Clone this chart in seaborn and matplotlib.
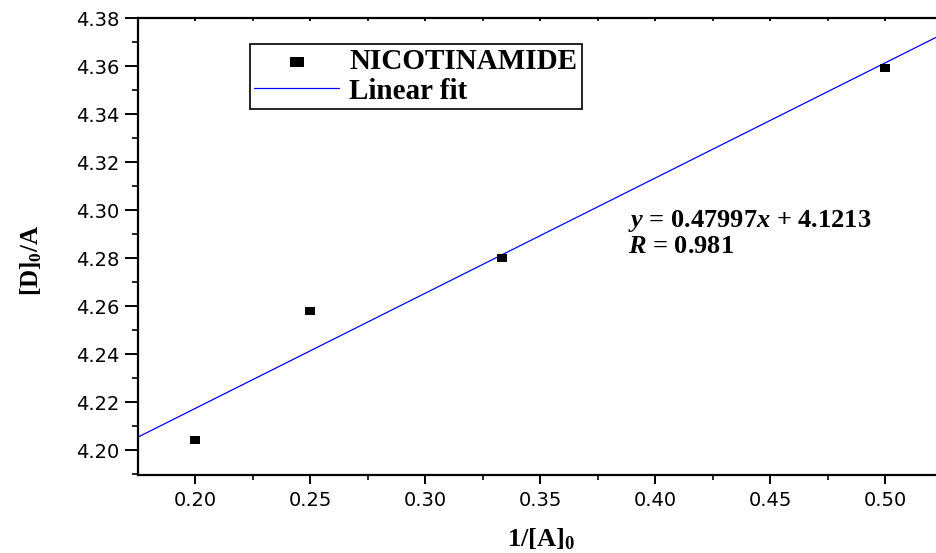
import matplotlib
matplotlib.use("Agg")
import matplotlib.pyplot as plt
import seaborn as sns
import numpy as np
import pandas as pd
from matplotlib.ticker import MultipleLocator, FormatStrFormatter

# data
x_vals = [0.2, 0.25, 0.3333, 0.5]
y_vals = [4.204, 4.258, 4.280, 4.359]
slope = 0.47997
intercept = 4.1213
series_name = "NICOTINAMIDE"
fit_name = "Linear fit"
eq_text = r'$y$ = 0.47997$x$ + 4.1213'
r_text = r'$R$ = 0.981'

sns.set_theme(style="ticks")
plt.rcParams['font.family'] = ['DejaVu Sans']
plt.rcParams['text.color'] = 'black'
plt.rcParams['axes.labelcolor'] = 'black'
plt.rcParams['xtick.color'] = 'black'
plt.rcParams['ytick.color'] = 'black'
plt.rcParams['xtick.labelcolor'] = 'black'
plt.rcParams['ytick.labelcolor'] = 'black'
plt.rcParams['mathtext.fontset'] = 'custom'
plt.rcParams['mathtext.rm'] = 'Liberation Serif:bold'
plt.rcParams['mathtext.bf'] = 'Liberation Serif:bold'
plt.rcParams['mathtext.it'] = 'Liberation Serif:italic:bold'

df = pd.DataFrame({"x": x_vals, "y": y_vals})

W, H = 936, 553
fig = plt.figure(figsize=(W / 100, H / 100), dpi=100)
ax_left, ax_right, ax_top, ax_bottom = 138, 936, 18, 475
ax = fig.add_axes([ax_left / W, 1 - ax_bottom / H, (ax_right - ax_left) / W,
                   (ax_bottom - ax_top) / H])

xmin, xmax = 0.1752, 0.1752 + (ax_right - ax_left) / 2300
ax.set_xlim(xmin, xmax)
ax.set_ylim(4.1896, 4.38)

xl = np.array([xmin, xmax])
line_df = pd.DataFrame({"x": xl, "y": slope * xl + intercept})

rect = [(-1.45, -1), (1.45, -1), (1.45, 1), (-1.45, 1), (-1.45, -1)]
sns.scatterplot(data=df, x="x", y="y", ax=ax, marker=rect, s=60, color="black",
                edgecolor="black", linewidth=0, label=series_name, zorder=3)
sns.lineplot(data=line_df, x="x", y="y", ax=ax, color="#0000ff", linewidth=0.9,
             label=fit_name, zorder=2)

ax.xaxis.set_major_locator(MultipleLocator(0.05))
ax.xaxis.set_minor_locator(MultipleLocator(0.025))
ax.yaxis.set_major_locator(MultipleLocator(0.02))
ax.yaxis.set_minor_locator(MultipleLocator(0.01))
ax.xaxis.set_major_formatter(FormatStrFormatter('%.2f'))
ax.yaxis.set_major_formatter(FormatStrFormatter('%.2f'))

for s in ['left', 'bottom', 'top']:
    ax.spines[s].set_linewidth(1.6)
    ax.spines[s].set_color('black')
ax.spines['right'].set_visible(False)

ax.tick_params(axis='both', which='both', colors='black', labelcolor='black', labelsize=14)
ax.tick_params(axis='y', which='major', direction='out', length=9.5, width=1.4, pad=4)
ax.tick_params(axis='y', which='minor', direction='out', length=4.5, width=1.2)
ax.tick_params(axis='x', which='major', direction='out', length=6.5, width=1.4, pad=5)
ax.tick_params(axis='x', which='minor', direction='out', length=3.5, width=1.2)
ax.tick_params(axis='x', which='both', top=True, labeltop=False)
for t in ax.xaxis.get_major_ticks() + ax.xaxis.get_minor_ticks():
    t.tick2line.set_markersize(2.5)
    t.tick2line.set_marker(3)

ax.set_xlabel(r'$\mathbf{1/[A]_0}$', fontsize=19, color='black')
ax.xaxis.set_label_coords((541 - ax_left) / (ax_right - ax_left),
                          -(526 - ax_bottom) / (ax_bottom - ax_top))
ax.set_ylabel(r'$\mathbf{[D]_0/A}$', fontsize=18, color='black')
ax.yaxis.set_label_coords(-(ax_left - 31) / (ax_right - ax_left),
                          (ax_bottom - 260) / (ax_bottom - ax_top))
ax.yaxis.label.set_va('center')

leg = ax.legend(loc='upper left',
                bbox_to_anchor=((250 - ax_left) / (ax_right - ax_left),
                                1 - (44 - ax_top) / (ax_bottom - ax_top)),
                frameon=True, fancybox=False, edgecolor='black', framealpha=1,
                prop={'family': 'Liberation Serif', 'weight': 'bold', 'size': 21},
                handlelength=2.9, handletextpad=0.35, borderpad=0.15, labelspacing=0.08,
                borderaxespad=0, markerscale=1.35, labelcolor='black')
leg.get_frame().set_linewidth(1.2)

def px2data(px, py):
    xd = xmin + (px - ax_left) / 2300
    yd = 4.38 - (py - ax_top) / 2400
    return xd, yd

tx, ty = px2data(628, 227)
ax.text(tx, ty, eq_text, fontsize=19, family='Liberation Serif', weight='bold',
        va='baseline', ha='left', color='black')
tx, ty = px2data(628, 253)
ax.text(tx, ty, r_text, fontsize=19, family='Liberation Serif', weight='bold',
        va='baseline', ha='left', color='black')

fig.savefig("out.png", dpi=100)
